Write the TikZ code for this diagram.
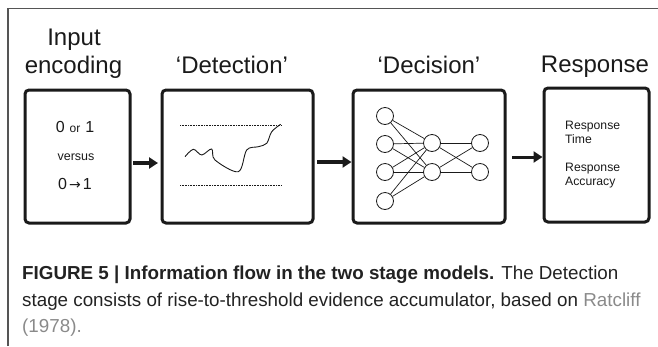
\documentclass[tikz,border=0pt]{standalone}
\usepackage{fontspec}
\setmainfont{Liberation Sans}
\newfontfamily\djv{DejaVu Sans}
\usetikzlibrary{arrows.meta}
\definecolor{ink}{HTML}{1A1A1A}
\definecolor{capgray}{HTML}{8A8A8A}
\definecolor{captext}{HTML}{222222}
\definecolor{framegray}{HTML}{555555}
\tikzset{
  stagebox/.style={draw=ink, line width=3pt, rounded corners=4pt, fill=white, inner sep=0pt},
  title/.style={font=\fontsize{24}{28}\selectfont, text=ink, inner sep=0pt, align=center},
  bigarrow/.style={draw=ink, line width=3.5pt, -{Triangle[length=9pt,width=11pt]}},
  neuron/.style={circle, draw=ink, line width=0.8pt, fill=white, minimum size=17pt, inner sep=0pt},
  synapse/.style={draw=ink, line width=0.7pt},
  threshold/.style={draw=ink, line width=0.6pt, dash pattern=on 0.8pt off 0.8pt},
  smalltxt/.style={font=\fontsize{12.2}{14}\selectfont, text=ink, inner sep=0pt, align=left},
  captxt/.style={font=\fontsize{18.8}{20}\selectfont, text=captext, inner sep=0pt, anchor=base west}
}
\begin{document}
\begin{tikzpicture}[x=1pt,y=-1pt]
\useasboundingbox (0,0) rectangle (658,346);
% frame
\draw[framegray, line width=1.2pt] (8,346) -- (8,8.5) -- (658,8.5);
% titles
\node[title, anchor=base] (t1a) at (74,45) {Input};
\node[title, anchor=base] (t1b) at (73.5,73) {encoding};
\node[title, anchor=base] (t2) at (232,73) {‘Detection’};
\node[title, anchor=base] (t3) at (429,73) {‘Decision’};
\node[title, anchor=base] (t4) at (595,72) {Response};
% boxes
\node[stagebox, minimum width=105pt, minimum height=133pt] (b1) at (77.5,156.5) {};
\node[stagebox, minimum width=151pt, minimum height=133pt] (b2) at (237.5,156.5) {};
\node[stagebox, minimum width=152pt, minimum height=133pt] (b3) at (429,156.5) {};
\node[stagebox, minimum width=105pt, minimum height=134pt] (b4) at (596.5,155) {};
% arrows
\draw[bigarrow, shorten <=1.5pt, shorten >=2.5pt] ([yshift=-6.5pt]b1.east) -- ([yshift=-6.5pt]b2.west);
\draw[bigarrow, shorten <=2.5pt, shorten >=0pt] ([yshift=-5.5pt]b2.east) -- ([yshift=-5.5pt]b3.west);
\draw[bigarrow, line width=3pt, shorten <=5.5pt, shorten >=0pt] ([yshift=-0.5pt]b3.east) -- ([yshift=-2pt]b4.west);
% box 1 text
\node[inner sep=0pt, text=ink] (e1) at (75,127) {\fontsize{16}{16}\selectfont 0\hspace{5pt}{\fontsize{12}{10}\selectfont or}\hspace{5pt}1};
\node[inner sep=0pt, text=ink, font=\fontsize{12.5}{12}\selectfont] (e2) at (76,157) {versus};
\node[inner sep=0pt, text=ink] (e3) at (75,184) {\fontsize{16}{16}\selectfont 0\hspace{2pt}{\djv\fontsize{14}{11}\selectfont →}\hspace{2pt}1};
% detection box
\draw[threshold] (180,125) -- (281,125);
\draw[threshold] (180,185) -- (281,185);
\draw[ink, line width=0.9pt] plot[smooth, tension=0.55] coordinates {(185,156.7) (193.3,149.3) (201.7,155) (211.7,149) (215,160) (238.3,171.7) (246.7,150) (258.3,146.7) (266.7,143.3) (271.7,131.7) (280.7,124.3)};
% network
\node[neuron] (i1) at (385,116) {};
\node[neuron] (i2) at (385,144) {};
\node[neuron] (i3) at (385,172) {};
\node[neuron] (i4) at (385,201) {};
\node[neuron] (h1) at (432,143) {};
\node[neuron] (h2) at (432,172) {};
\node[neuron] (o1) at (480,143) {};
\node[neuron] (o2) at (480,172) {};
\foreach \a in {i1,i2,i3,i4}{
  \foreach \b in {h1,h2}{
    \draw[synapse] (\a) -- (\b);
  }
}
\foreach \a in {h1,h2}{
  \foreach \b in {o1,o2}{
    \draw[synapse] (\a) -- (\b);
  }
}
% response box text
\node[smalltxt, anchor=north west] (r1) at (565,121) {Response\\Time};
\node[smalltxt, anchor=north west] (r2) at (565,163) {Response\\Accuracy};
% caption
\node[captxt] (c1) at (22,279) {\textbf{FIGURE 5 | Information flow in the two stage models.} The Detection};
\node[captxt] (c2) at (22,306) {stage consists of rise-to-threshold evidence accumulator, based on \textcolor{capgray}{Ratcliff}};
\node[captxt] (c3) at (22,332) {\textcolor{capgray}{(1978).}};
\end{tikzpicture}
\end{document}
